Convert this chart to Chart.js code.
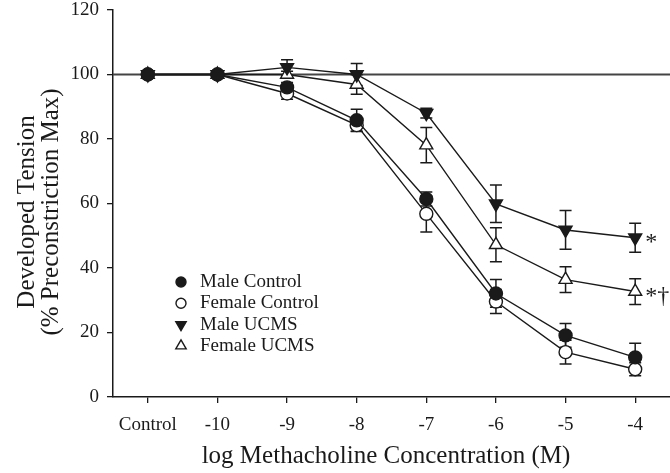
<!DOCTYPE html>
<html>
<head>
<meta charset="utf-8">
<script src="https://cdn.jsdelivr.net/npm/chart.js@4.4.1/dist/chart.umd.min.js"></script>
<style>
  html, body { margin: 0; padding: 0; background: #fff; }
  #box { width: 670px; height: 473px; }
</style>
</head>
<body>
<div id="box"><canvas id="myChart" width="670" height="473"></canvas></div>
<script>
// x categories (log molar concentration)
const categories = ['Control', '-10', '-9', '-8', '-7', '-6', '-5', '-4'];
const yTicks = [0, 20, 40, 60, 80, 100, 120];

// mean developed tension, % of preconstriction max
const maleControl   = [100, 100, 96.0, 85.8, 61.4, 32.1, 19.1, 12.3];
const femaleControl = [100, 100, 94.1, 84.3, 56.8, 29.6, 13.9, 8.6];
const maleUcms      = [100, 100, 102.2, 100.0, 88.0, 59.9, 51.8, 49.4];
const femaleUcms    = [100, 100, 100.0, 96.9, 78.1, 47.2, 36.4, 32.7];

// error (SEM)
const maleControlErr   = [0, 0, 1.5, 3.4, 2.2, 4.3, 3.7, 4.4];
const femaleControlErr = [0, 0, 1.8, 2.0, 5.6, 3.7, 3.7, 2.0];
const maleUcmsErr      = [0, 0, 2.4, 3.4, 1.5, 5.8, 6.0, 4.5];
const femaleUcmsErr    = [0, 0, 1.0, 3.0, 5.5, 5.3, 4.0, 4.0];

const seriesNames = ['Male Control', 'Female Control', 'Male UCMS', 'Female UCMS'];
const significance = ['', '', '*', '*\u2020'];

const serif = '"Liberation Serif", "Times New Roman", serif';
const ink = '#1a1a1a';

function makeSet(name, values, errors, style, filled, rotation, note) {
  return {
    label: name,
    data: values,
    errors: errors,
    note: note,
    borderColor: ink,
    borderWidth: 1.4,
    tension: 0,
    pointStyle: style,
    pointRotation: rotation,
    pointRadius: style === 'circle' ? 6.5 : 7.5,
    pointBorderWidth: 1.4,
    pointBorderColor: ink,
    pointBackgroundColor: filled ? ink : '#fff',
    fill: false
  };
}

const datasets = [
  makeSet(seriesNames[0], maleControl, maleControlErr, 'circle', true, 0, significance[0]),
  makeSet(seriesNames[1], femaleControl, femaleControlErr, 'circle', false, 0, significance[1]),
  makeSet(seriesNames[2], maleUcms, maleUcmsErr, 'triangle', true, 180, significance[2]),
  makeSet(seriesNames[3], femaleUcms, femaleUcmsErr, 'triangle', false, 0, significance[3])
];

// reference line at 100 % and error bars, drawn under the markers
const underlay = {
  id: 'underlay',
  beforeDatasetsDraw(chart) {
    const ctx = chart.ctx;
    const area = chart.chartArea;
    const y = chart.scales.y;
    ctx.save();
    ctx.strokeStyle = '#444';
    ctx.lineWidth = 2;
    ctx.beginPath();
    ctx.moveTo(area.left, y.getPixelForValue(100));
    ctx.lineTo(area.right, y.getPixelForValue(100));
    ctx.stroke();

    ctx.strokeStyle = ink;
    ctx.lineWidth = 1.5;
    chart.data.datasets.forEach((ds, i) => {
      const meta = chart.getDatasetMeta(i);
      meta.data.forEach((pt, j) => {
        const e = ds.errors[j];
        if (!e) return;
        const top = y.getPixelForValue(ds.data[j] + e);
        const bot = y.getPixelForValue(ds.data[j] - e);
        ctx.beginPath();
        ctx.moveTo(pt.x, top); ctx.lineTo(pt.x, bot);
        ctx.moveTo(pt.x - 6, top); ctx.lineTo(pt.x + 6, top);
        ctx.moveTo(pt.x - 6, bot); ctx.lineTo(pt.x + 6, bot);
        ctx.stroke();
      });
    });
    ctx.restore();
  }
};

// axis titles, inner legend and significance marks
const overlay = {
  id: 'overlay',
  afterDraw(chart) {
    const ctx = chart.ctx;
    ctx.save();
    ctx.fillStyle = ink;

    // y title (two lines, rotated)
    ctx.font = '25px ' + serif;
    ctx.textAlign = 'center';
    ctx.textBaseline = 'middle';
    ctx.save();
    ctx.translate(27, 212);
    ctx.rotate(-Math.PI / 2);
    ctx.fillText('Developed Tension', 0, 0);
    ctx.fillText('(% Preconstriction Max)', 0, 24);
    ctx.restore();

    // x title
    ctx.fillText('log Methacholine Concentration (M)', 386, 456);

    // legend
    ctx.font = '19px ' + serif;
    ctx.textAlign = 'left';
    chart.data.datasets.forEach((ds, i) => {
      const ly = 282 + i * 21.3;
      ctx.strokeStyle = ink;
      ctx.lineWidth = 1.4;
      ctx.fillStyle = ds.pointBackgroundColor;
      Chart.helpers.drawPoint(ctx, {
        pointStyle: ds.pointStyle,
        rotation: ds.pointRotation,
        radius: ds.pointStyle === 'circle' ? 5 : 6,
        borderWidth: 1.4
      }, 181, ly);
      ctx.fillStyle = ink;
      ctx.fillText(ds.label, 200, ly);
    });

    // significance marks next to the last point
    ctx.font = '24px ' + serif;
    chart.data.datasets.forEach((ds, i) => {
      if (!ds.note) return;
      const meta = chart.getDatasetMeta(i);
      const pt = meta.data[meta.data.length - 1];
      ctx.fillText(ds.note, pt.x + 10, pt.y + 5);
    });
    ctx.restore();
  }
};

Chart.defaults.font.family = serif;
Chart.defaults.color = ink;

new Chart(document.getElementById('myChart'), {
  type: 'line',
  data: { labels: categories, datasets: datasets },
  options: {
    responsive: false,
    animation: false,
    devicePixelRatio: 1,
    layout: { autoPadding: false, padding: { top: 10, right: 0, left: 0, bottom: 0 } },
    plugins: { legend: { display: false }, tooltip: { enabled: false } },
    scales: {
      x: {
        type: 'category',
        offset: true,
        border: { display: true, color: ink, width: 1.5 },
        grid: { display: true, offset: false, drawOnChartArea: false, drawTicks: true, tickLength: 6, color: ink, lineWidth: 1.3 },
        ticks: { font: { size: 19 }, padding: 11, maxRotation: 0, autoSkip: false },
        afterFit(scale) {
          scale.height = 76;
          scale.paddingLeft = 0;
          scale.paddingRight = 0;
        }
      },
      y: {
        min: 0,
        max: 120,
        afterBuildTicks(scale) { scale.ticks = yTicks.map(v => ({ value: v })); },
        border: { display: true, color: ink, width: 1.5 },
        grid: { display: true, drawOnChartArea: false, drawTicks: true, tickLength: 6, color: ink, lineWidth: 1.3 },
        ticks: { font: { size: 19 }, padding: 8 },
        afterFit(scale) {
          scale.width = 113;
          scale.paddingTop = 0;
          scale.paddingBottom = 0;
        }
      }
    }
  },
  plugins: [underlay, overlay]
});
</script>
</body>
</html>
